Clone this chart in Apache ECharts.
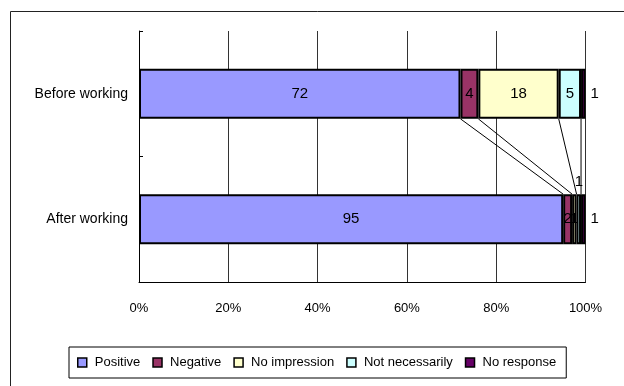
<!DOCTYPE html>
<html>
<head>
<meta charset="utf-8">
<script src="https://cdn.jsdelivr.net/npm/echarts@6/dist/echarts.min.js"></script>
<style>
  html, body { margin: 0; padding: 0; background: #fff; }
  #chart { width: 624px; height: 386px; }
</style>
</head>
<body>
<div id="chart"></div>
<script>
// ---- Data ----
const categories = ['Before working', 'After working'];
const seriesNames = ['Positive', 'Negative', 'No impression', 'Not necessarily', 'No response'];
const positive = [72, 95];
const negative = [4, 2];
const noImpression = [18, 1];
const notNecessarily = [5, 1];
const noResponse = [1, 1];
const xTickValues = [0, 20, 40, 60, 80, 100];

// ---- Styling ----
const colors = ['#9999FF', '#993366', '#FFFFCC', '#CCFFFF', '#660066'];
const FONT = 'Liberation Sans, Arial, sans-serif';
// label position overrides [seriesIndex][categoryIndex]
const labelPos = {
  3: { 1: 'top' },
  4: { 0: 'right', 1: 'right' }
};

const values = [positive, negative, noImpression, notNecessarily, noResponse];

const barSeries = values.map((arr, si) => ({
  name: seriesNames[si],
  type: 'bar',
  stack: 'total',
  barWidth: '40%',
  z: 3,
  itemStyle: { color: colors[si], borderColor: '#000', borderWidth: 2 },
  label: {
    show: true,
    position: 'inside',
    color: '#000',
    fontFamily: FONT,
    fontSize: 15
  },
  data: arr.map((v, ci) => {
    const pos = labelPos[si] && labelPos[si][ci];
    return pos ? { value: v, label: { position: pos, distance: 5 } } : { value: v };
  })
}));

// cumulative boundaries for the series connector lines
const connectors = [];
let cb = 0, ca = 0;
for (let i = 0; i < values.length - 1; i++) {
  cb += values[i][0];
  ca += values[i][1];
  connectors.push([cb, 0, ca]);
}

const lineSeries = {
  type: 'custom',
  z: 2,
  silent: true,
  encode: { x: 0, y: 1 },
  renderItem: function (params, api) {
    const b = api.value(0), a = api.value(2);
    const p0 = api.coord([b, 0]);
    const p1 = api.coord([a, 1]);
    const band = api.size([0, 1])[1];
    const h = band * 0.2;
    return {
      type: 'line',
      shape: { x1: p0[0], y1: p0[1] + h, x2: p1[0], y2: p1[1] - h },
      style: { stroke: '#000', lineWidth: 1 }
    };
  },
  data: connectors
};

const chart = echarts.init(document.getElementById('chart'), null, { renderer: 'canvas' });
chart.setOption({
  animation: false,
  backgroundColor: '#fff',
  graphic: [{
    type: 'rect',
    left: 8, top: 9,
    shape: { width: 700, height: 500 },
    style: { fill: 'none', stroke: '#222', lineWidth: 1 },
    z: -10
  }],
  grid: { left: 139, right: 38.5, top: 31, bottom: 104 },
  legend: {
    data: seriesNames,
    left: 69, top: 347,
    padding: [9, 10, 9, 8],
    borderColor: '#000', borderWidth: 1,
    backgroundColor: '#fff',
    itemWidth: 9, itemHeight: 9, itemGap: 12,
    icon: 'rect',
    itemStyle: { borderColor: '#000', borderWidth: 1.5 },
    textStyle: { color: '#000', fontFamily: FONT, fontSize: 13, padding: [0, 0, 0, 3] }
  },
  xAxis: {
    type: 'value',
    min: 0, max: 100, interval: 20,
    axisLine: { show: true, lineStyle: { color: '#000', width: 1 } },
    axisTick: { show: false },
    splitLine: { show: true, lineStyle: { color: '#333', width: 1 } },
    axisLabel: {
      color: '#000', fontFamily: FONT, fontSize: 13, margin: 20,
      formatter: function (v) { return xTickValues.indexOf(v) >= 0 ? v + '%' : ''; }
    }
  },
  yAxis: {
    type: 'category',
    inverse: true,
    data: categories,
    axisLine: { show: true, lineStyle: { color: '#000', width: 1 } },
    axisTick: { show: true, inside: true, length: 4, lineStyle: { color: '#000' } },
    axisLabel: { color: '#000', fontFamily: FONT, fontSize: 14, margin: 11 },
    splitLine: { show: false }
  },
  series: barSeries.concat([lineSeries])
});
</script>
</body>
</html>
